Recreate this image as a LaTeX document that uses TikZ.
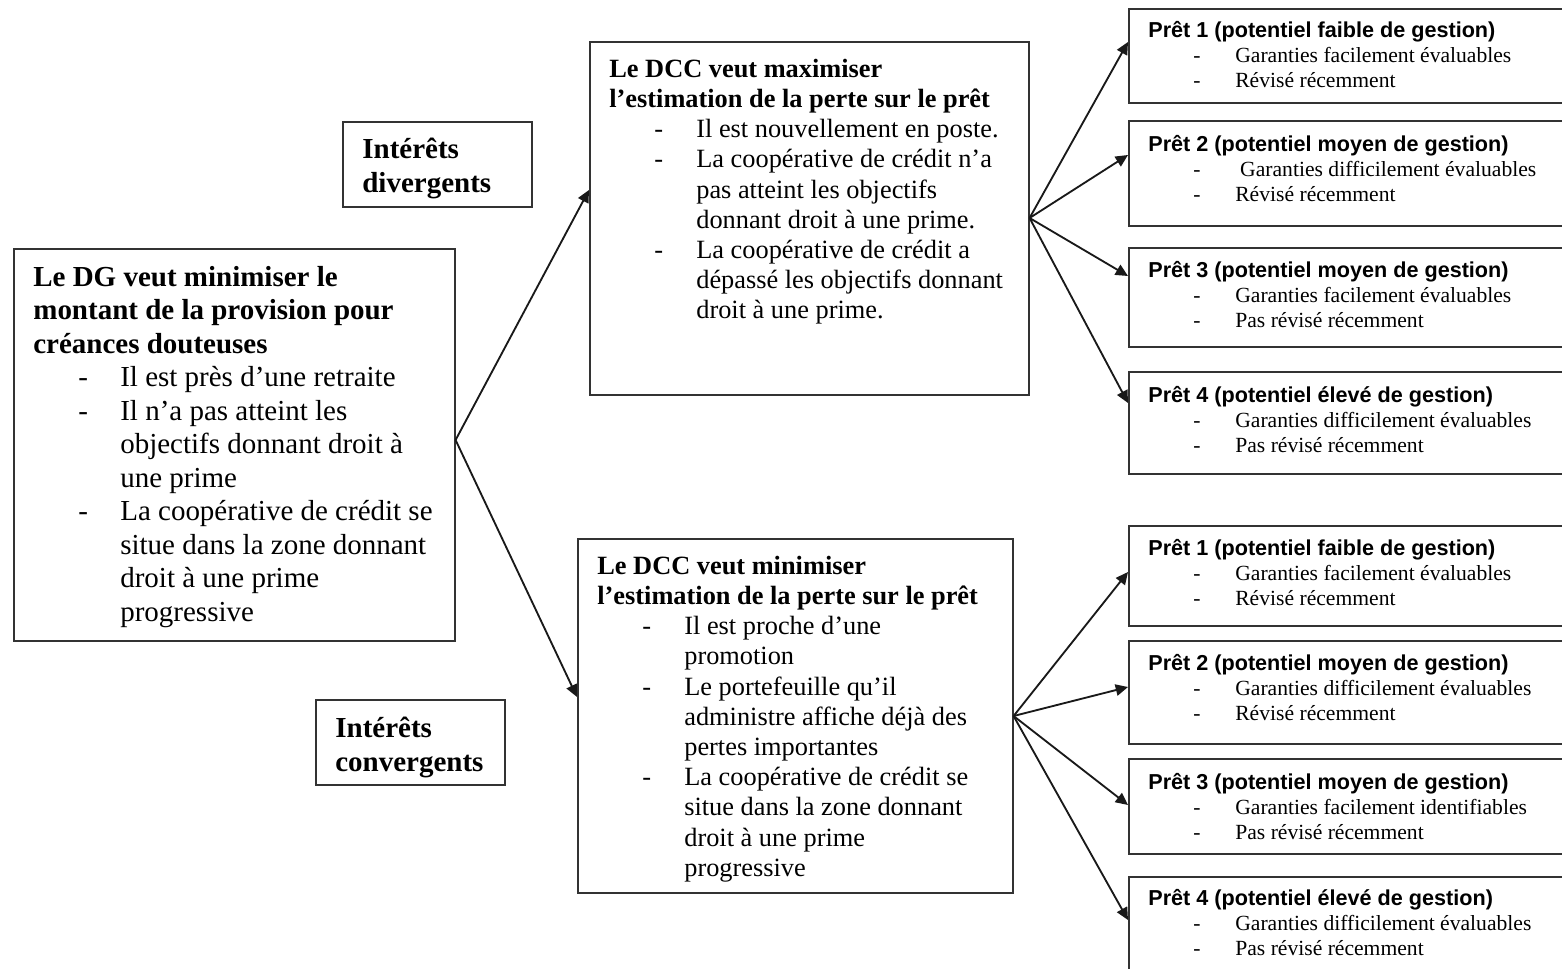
\documentclass[tikz,border=0pt]{standalone}
\usepackage{fontspec}
\setmainfont{Liberation Serif}
\newfontfamily\arialfont{Liberation Sans}
\usetikzlibrary{arrows.meta,calc}

% bullet line: dash then text; continuation line: text only
\newcommand\li[1]{\hspace*{25.6pt}\makebox[23.9pt][l]{-}#1}
\newcommand\lc[1]{\hspace*{49.5pt}#1}
\newcommand\lix[1]{\hspace*{25.6pt}\makebox[26.7pt][l]{-}#1}

\begin{document}
\begin{tikzpicture}[x=0.02cm, y=-0.02cm,
  box/.style={draw=black!80, line width=0.9pt, anchor=north west, inner sep=0pt},
  txt/.style={anchor=north west, inner sep=0pt, align=left},
  bigfont/.style={font=\fontsize{16.5}{19.06}\selectfont},
  midfont/.style={font=\fontsize{15}{17.2}\selectfont},
  smallfont/.style={font=\fontsize{12.3}{14.2}\selectfont},
  arr/.style={draw=black!90, line width=1.05pt, -{Triangle[length=7pt, width=6.5pt]}},
  pretbox/.style={box, minimum width=460*0.02cm}
]
\useasboundingbox (0,0) rectangle (1562,969);
\clip (0,0) rectangle (1562,969);

% ---- left and middle boxes ----
\node[box, minimum width=189*0.02cm, minimum height=85*0.02cm] (div) at (342,121) {};
\node[txt, bigfont] (divt) at (362,138) {\textbf{Intérêts}\\\textbf{divergents}};

\node[box, minimum width=189*0.02cm, minimum height=85*0.02cm] (conv) at (315,699) {};
\node[txt, bigfont] (convt) at (335,717) {\textbf{Intérêts}\\\textbf{convergents}};

\node[box, minimum width=441*0.02cm, minimum height=392*0.02cm] (dg) at (13,248) {};
\node[txt, bigfont] (dgt) at (33,266) {%
  \textbf{Le DG veut minimiser le}\\
  \textbf{montant de la provision pour}\\
  \textbf{créances douteuses}\\
  \li{Il est près d’une retraite}\\
  \li{Il n’a pas atteint les}\\
  \lc{objectifs donnant droit à}\\
  \lc{une prime}\\
  \li{La coopérative de crédit se}\\
  \lc{situe dans la zone donnant}\\
  \lc{droit à une prime}\\
  \lc{progressive}};

\node[box, minimum width=439*0.02cm, minimum height=353*0.02cm] (dmax) at (589,41) {};
\node[txt, midfont] (dmaxt) at (609,58.5) {%
  \textbf{Le DCC veut maximiser}\\
  \textbf{l’estimation de la perte sur le prêt}\\
  \li{Il est nouvellement en poste.}\\
  \li{La coopérative de crédit n’a}\\
  \lc{pas atteint les objectifs}\\
  \lc{donnant droit à une prime.}\\
  \li{La coopérative de crédit a}\\
  \lc{dépassé les objectifs donnant}\\
  \lc{droit à une prime.}};

\node[box, minimum width=435*0.02cm, minimum height=354*0.02cm] (dmin) at (577,538) {};
\node[txt, midfont] (dmint) at (597,555.5) {%
  \textbf{Le DCC veut minimiser}\\
  \textbf{l’estimation de la perte sur le prêt}\\
  \li{Il est proche d’une}\\
  \lc{promotion}\\
  \li{Le portefeuille qu’il}\\
  \lc{administre affiche déjà des}\\
  \lc{pertes importantes}\\
  \li{La coopérative de crédit se}\\
  \lc{situe dans la zone donnant}\\
  \lc{droit à une prime}\\
  \lc{progressive}};

% ---- loan boxes, upper group ----
\node[pretbox, minimum height=94*0.02cm]  (p1a) at (1128,8) {};
\node[pretbox, minimum height=105*0.02cm] (p2a) at (1128,120) {};
\node[pretbox, minimum height=99*0.02cm]  (p3a) at (1128,247) {};
\node[pretbox, minimum height=102*0.02cm] (p4a) at (1128,371) {};

\node[txt, smallfont] (p1at) at (1148,21) {{\arialfont\bfseries Prêt 1 (potentiel faible de gestion)}\\
  \li{Garanties facilement évaluables}\\\li{Révisé récemment}};
\node[txt, smallfont] (p2at) at (1148,135) {{\arialfont\bfseries Prêt 2 (potentiel moyen de gestion)}\\
  \lix{Garanties difficilement évaluables}\\\li{Révisé récemment}};
\node[txt, smallfont] (p3at) at (1148,261) {{\arialfont\bfseries Prêt 3 (potentiel moyen de gestion)}\\
  \li{Garanties facilement évaluables}\\\li{Pas révisé récemment}};
\node[txt, smallfont] (p4at) at (1148,386) {{\arialfont\bfseries Prêt 4 (potentiel élevé de gestion)}\\
  \li{Garanties difficilement évaluables}\\\li{Pas révisé récemment}};

% ---- loan boxes, lower group ----
\node[pretbox, minimum height=100*0.02cm] (p1b) at (1128,525) {};
\node[pretbox, minimum height=103*0.02cm] (p2b) at (1128,640) {};
\node[pretbox, minimum height=95*0.02cm]  (p3b) at (1128,758) {};
\node[pretbox, minimum height=120*0.02cm] (p4b) at (1128,876) {};

\node[txt, smallfont] (p1bt) at (1148,539) {{\arialfont\bfseries Prêt 1 (potentiel faible de gestion)}\\
  \li{Garanties facilement évaluables}\\\li{Révisé récemment}};
\node[txt, smallfont] (p2bt) at (1148,654) {{\arialfont\bfseries Prêt 2 (potentiel moyen de gestion)}\\
  \li{Garanties difficilement évaluables}\\\li{Révisé récemment}};
\node[txt, smallfont] (p3bt) at (1148,773) {{\arialfont\bfseries Prêt 3 (potentiel moyen de gestion)}\\
  \li{Garanties facilement identifiables}\\\li{Pas révisé récemment}};
\node[txt, smallfont] (p4bt) at (1148,889) {{\arialfont\bfseries Prêt 4 (potentiel élevé de gestion)}\\
  \li{Garanties difficilement évaluables}\\\li{Pas révisé récemment}};

% ---- connectors ----
\coordinate (dgout) at ($(dg.north east)+(0,192)$);
\draw[arr] (dgout) -- ($(dmax.north west)+(0,149)$);
\draw[arr] (dgout) -- ($(dmin.north west)+(0,159)$);

\coordinate (maxout) at ($(dmax.north east)+(0,177)$);
\draw[arr] (maxout) -- ($(p1a.north west)+(0,34)$);
\draw[arr] (maxout) -- ($(p2a.north west)+(0,35)$);
\draw[arr] (maxout) -- ($(p3a.north west)+(0,29)$);
\draw[arr] (maxout) -- ($(p4a.north west)+(0,32)$);

\coordinate (minout) at ($(dmin.north east)+(0,178)$);
\draw[arr] (minout) -- ($(p1b.north west)+(0,47)$);
\draw[arr] (minout) -- ($(p2b.north west)+(0,47)$);
\draw[arr] (minout) -- ($(p3b.north west)+(0,47)$);
\draw[arr] (minout) -- ($(p4b.north west)+(0,44)$);
\end{tikzpicture}
\end{document}
